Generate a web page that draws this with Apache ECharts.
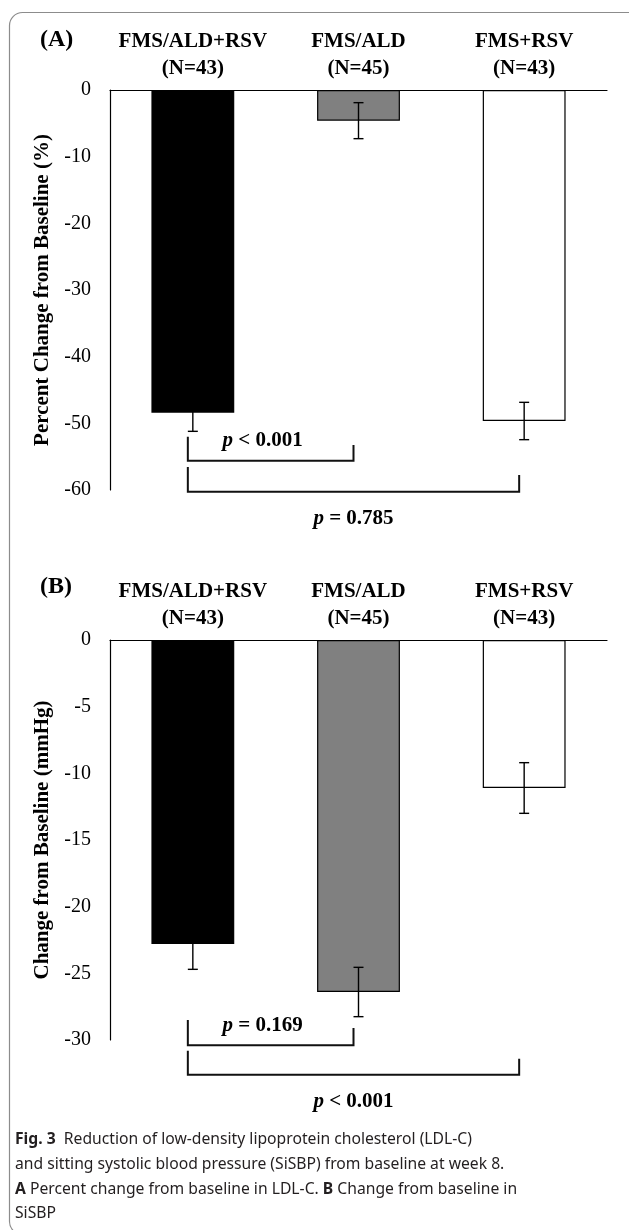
<!DOCTYPE html>
<html>
<head>
<meta charset="utf-8">
<script src="https://cdn.jsdelivr.net/npm/echarts@6/dist/echarts.min.js"></script>
<style>
html,body{margin:0;padding:0;background:#fff;}
#c{width:629px;height:1230px;}
</style>
</head>
<body>
<div id="c"></div>
<script>
// ---- data ----
const categories = ['FMS/ALD+RSV\n(N=43)', 'FMS/ALD\n(N=45)', 'FMS+RSV\n(N=43)'];
const barColors = ['#000000', '#808080', '#ffffff'];
const ldlMean = [-48.4, -4.6, -49.65];
const ldlErr = [2.8, 2.7, 2.8];
const sbpMean = [-22.8, -26.4, -11.1];
const sbpErr = [1.9, 1.85, 1.9];
const ldlTicks = { min: -60, max: 0, interval: 10 };
const sbpTicks = { min: -30, max: 0, interval: 5 };
// brackets: [fromCat, toCat, lineY, leftTopY, rightTopY, textY]
const ldlBrackets = [[0, 1, -55.6, -52.0, -53.25, -52.65], [0, 2, -60.25, -56.55, -57.75, -64.35]];
const ldlPText = [' < 0.001', ' = 0.785'];
const ldlTextDx = [-8, 0];
const sbpBrackets = [[0, 1, -30.4, -28.5, -29.1, -28.9], [0, 2, -32.6, -30.8, -31.4, -34.65]];
const sbpPText = [' = 0.169', ' < 0.001'];
const sbpTextDx = [-8, 0];
const yNames = ['Percent Change from Baseline (%)', 'Change from Baseline (mmHg)'];
const panelTags = ['(A)', '(B)'];
const captionLines = [
  '{b|Fig. 3}  Reduction of low-density lipoprotein cholesterol (LDL-C)',
  'and sitting systolic blood pressure (SiSBP) from baseline at week 8.',
  '{b|A} Percent change from baseline in LDL-C. {b|B} Change from baseline in',
  'SiSBP'
];

const SERIF = 'Liberation Serif, Times New Roman, serif';
const SANS = 'Noto Sans, Open Sans, sans-serif';
const chart = echarts.init(document.getElementById('c'), null, { renderer: 'canvas' });

function xAxisFor(gi) {
  return {
    type: 'category', gridIndex: gi, position: 'top', data: categories,
    axisLine: { show: true, lineStyle: { color: '#000', width: 1.2 } },
    axisTick: { show: false },
    axisLabel: { interval: 0, margin: 8, color: '#000', fontFamily: SERIF, fontWeight: 'bold', fontSize: 21, lineHeight: 27 },
    splitLine: { show: false }
  };
}
function yAxisFor(gi, t, name) {
  return {
    type: 'value', gridIndex: gi, min: t.min, max: t.max, interval: t.interval,
    name: name, nameLocation: 'middle', nameGap: 55, nameRotate: 90,
    nameTextStyle: { color: '#000', fontFamily: SERIF, fontWeight: 'bold', fontSize: 21 },
    axisLine: { show: true, lineStyle: { color: '#000', width: 1.2 } },
    axisTick: { show: false },
    axisLabel: { margin: 19, color: '#000', fontFamily: SERIF, fontSize: 20 },
    splitLine: { show: false }
  };
}
function barSeries(gi, vals) {
  return {
    type: 'bar', xAxisIndex: gi, yAxisIndex: gi, barWidth: '50%',
    data: vals.map((v, i) => ({ value: v, itemStyle: { color: barColors[i], borderColor: '#000', borderWidth: 1.2 } })),
    z: 2
  };
}
function errSeries(gi, vals, errs) {
  return {
    type: 'custom', xAxisIndex: gi, yAxisIndex: gi, z: 5,
    encode: { x: 0, y: 1 },
    data: vals.map((v, i) => [i, v, errs[i]]),
    renderItem: function (params, api) {
      const x = api.value(0), m = api.value(1), e = api.value(2);
      const lo = api.coord([x, m - e]), hi = api.coord([x, m + e]);
      const hw = 5, st = { stroke: '#000', lineWidth: 1.4 };
      return { type: 'group', children: [
        { type: 'line', shape: { x1: lo[0], y1: lo[1], x2: hi[0], y2: hi[1] }, style: st },
        { type: 'line', shape: { x1: lo[0] - hw, y1: lo[1], x2: lo[0] + hw, y2: lo[1] }, style: st },
        { type: 'line', shape: { x1: hi[0] - hw, y1: hi[1], x2: hi[0] + hw, y2: hi[1] }, style: st }
      ] };
    }
  };
}
function bracketSeries(gi, br, texts, dxs) {
  return {
    type: 'custom', xAxisIndex: gi, yAxisIndex: gi, z: 6, clip: false,
    encode: { x: 0, y: 2 },
    data: br,
    renderItem: function (params, api) {
      const off = -5;
      const x0 = api.value(0), x1 = api.value(1), yh = api.value(2), yl = api.value(3), yr = api.value(4), yt = api.value(5);
      const a = api.coord([x0, yl]), b = api.coord([x0, yh]), c = api.coord([x1, yh]), d = api.coord([x1, yr]);
      const t = api.coord([x0, yt]);
      const cx = (b[0] + c[0]) / 2 + off + dxs[params.dataIndex];
      return { type: 'group', children: [
        { type: 'polyline', shape: { points: [[a[0] + off, a[1]], [b[0] + off, b[1]], [c[0] + off, c[1]], [d[0] + off, d[1]]] },
          style: { stroke: '#111', lineWidth: 2, fill: null } },
        { type: 'text', x: cx, y: t[1], style: {
          text: '{i|p}' + texts[params.dataIndex],
          rich: { i: { fontStyle: 'italic', fontWeight: 'bold', fontFamily: SERIF, fontSize: 21, fill: '#000' } },
          fontFamily: SERIF, fontWeight: 'bold', fontSize: 21, fill: '#000', align: 'center', verticalAlign: 'middle' } }
      ] };
    }
  };
}

const graphics = [
  { type: 'rect', shape: { x: 9.5, y: 12.5, width: 660, height: 1222, r: 13 }, style: { fill: null, stroke: '#8c8c8c', lineWidth: 1.2 }, silent: true },
  { type: 'text', left: 40, top: 28, style: { text: panelTags[0], fontFamily: SERIF, fontWeight: 'bold', fontSize: 24, fill: '#000' } },
  { type: 'text', left: 40, top: 575, style: { text: panelTags[1], fontFamily: SERIF, fontWeight: 'bold', fontSize: 24, fill: '#000' } }
];
const capY = [1140, 1165, 1190, 1214];
captionLines.forEach((ln, i) => {
  graphics.push({ type: 'text', x: 15, y: capY[i], style: {
    text: ln, fontFamily: SANS, fontSize: 15.7, fill: '#231f20', verticalAlign: 'middle',
    rich: { b: { fontWeight: 'bold', fontFamily: SANS, fontSize: 15.7, fill: '#231f20' } } } });
});

chart.setOption({
  animation: false,
  backgroundColor: '#fff',
  grid: [
    { left: 110, right: 22, top: 90, height: 400, containLabel: false },
    { left: 110, right: 22, top: 640, height: 400, containLabel: false }
  ],
  xAxis: [xAxisFor(0), xAxisFor(1)],
  yAxis: [yAxisFor(0, ldlTicks, yNames[0]), yAxisFor(1, sbpTicks, yNames[1])],
  series: [
    barSeries(0, ldlMean), errSeries(0, ldlMean, ldlErr), bracketSeries(0, ldlBrackets, ldlPText, ldlTextDx),
    barSeries(1, sbpMean), errSeries(1, sbpMean, sbpErr), bracketSeries(1, sbpBrackets, sbpPText, sbpTextDx)
  ],
  graphic: graphics
});
</script>
</body>
</html>
